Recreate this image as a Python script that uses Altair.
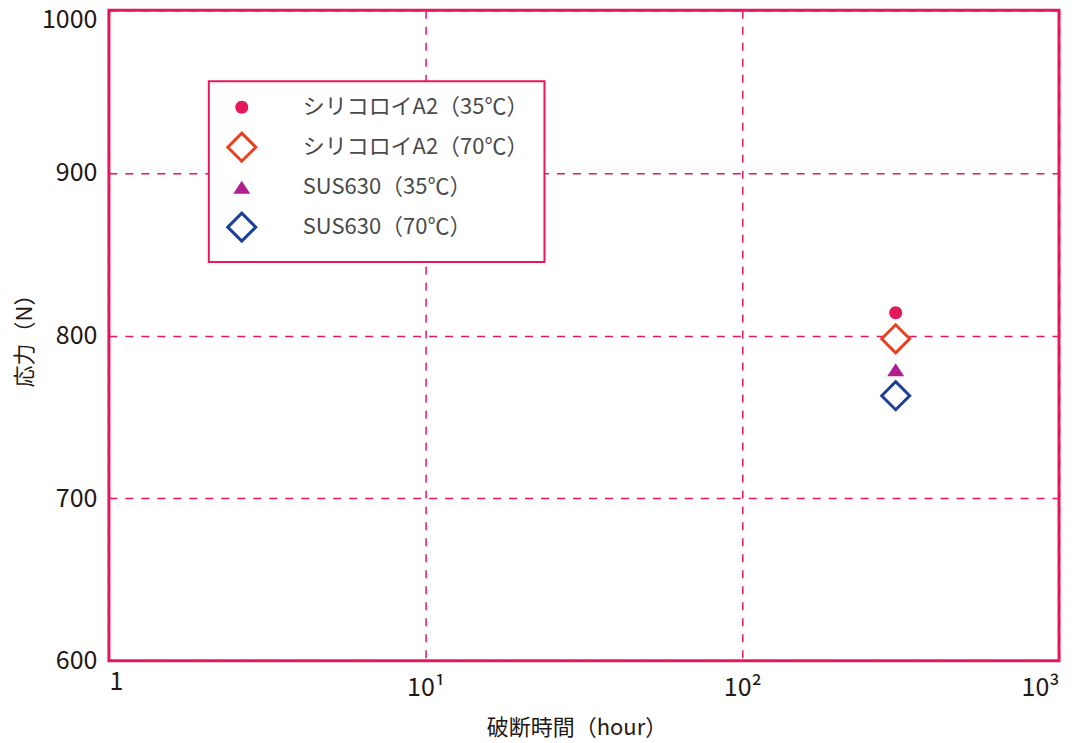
import altair as alt
import pandas as pd

# ---- data ----
series = ["シリコロイA2（35℃）", "シリコロイA2（70℃）", "SUS630（35℃）", "SUS630（70℃）"]
hours = [305, 305, 305, 305]
stress = [814, 798, 779, 763]

x_ticks = [1, 10, 100, 1000]
x_tick_labels = ["1", "10¹", "10²", "10³"]
y_ticks = [600, 700, 800, 900, 1000]

fill_colors = ["#E5185D", "#FFFFFF", "#B0218D", "#FFFFFF"]
stroke_colors = ["transparent", "#E8411D", "transparent", "#1E3F98"]
shapes = [
    "M1.3,0A1.3,1.3,0,1,1,-1.3,0A1.3,1.3,0,1,1,1.3,0Z",
    "M-2.8,0L0,-2.8L2.8,0L0,2.8Z",
    "M0,-1.3L1.7,1.3L-1.7,1.3Z",
    "M-2.8,0L0,-2.8L2.8,0L0,2.8Z",
]

df = pd.DataFrame({"series": series, "hours": hours, "stress": stress})

FONT = "Noto Sans CJK JP"
FRAME = "#E5185D"
TEXT = "#231815"

label_expr = " : ".join(
    f"datum.value == {v} ? '{l}'" for v, l in zip(x_ticks[:-1], x_tick_labels[:-1])
) + f" : '{x_tick_labels[-1]}'"

chart = (
    alt.Chart(df)
    .mark_point(filled=True, opacity=1, size=100, strokeWidth=3)
    .encode(
        x=alt.X(
            "hours:Q",
            scale=alt.Scale(type="log", domain=[1, 1000], nice=False),
            axis=alt.Axis(
                title="破断時間（hour）",
                values=x_ticks,
                labelExpr=label_expr,
                labelPadding={"condition": {"test": "datum.value <= 1", "value": 9}, "value": 15},
                titleX=468,
                titleY=67,
                titleBaseline="middle",
            ),
        ),
        y=alt.Y(
            "stress:Q",
            scale=alt.Scale(domain=[600, 1000], nice=False, zero=False),
            axis=alt.Axis(
                title="応力（N）",
                values=y_ticks,
                format="d",
                labelPadding=12,
                labelOffset={"condition": {"test": "datum.value >= 1000", "value": 9}, "value": 0},
                titleX=-84,
                titleY=325,
                titleBaseline="middle",
            ),
        ),
        shape=alt.Shape("series:N", scale=alt.Scale(domain=series, range=shapes),
                        sort=series, legend=alt.Legend(title=None)),
        fill=alt.Fill("series:N", scale=alt.Scale(domain=series, range=fill_colors),
                      sort=series, legend=alt.Legend(title=None)),
        stroke=alt.Stroke("series:N", scale=alt.Scale(domain=series, range=stroke_colors),
                          sort=series, legend=alt.Legend(title=None)),
    )
    .properties(
        width=951,
        height=651,
        autosize=alt.AutoSizeParams(type="none"),
        padding={"left": 101, "top": 2, "right": 8, "bottom": 84},
    )
    .configure_view(stroke=FRAME, strokeWidth=3, fill="white")
    .configure_axis(
        domain=False,
        ticks=False,
        grid=True,
        gridColor=FRAME,
        gridDash=[8, 8],
        gridWidth=1.5,
        labelFont=FONT,
        labelFontSize=25,
        labelColor=TEXT,
        titleFont=FONT,
        titleFontSize=22,
        titleFontWeight="normal",
        titleColor=TEXT,
    )
    .configure_legend(
        orient="none",
        legendX=100,
        legendY=71,
        strokeColor=FRAME,
        strokeWidth=2,
        fillColor="white",
        padding=15,
        symbolSize=100,
        symbolStrokeWidth=3,
        symbolOffset=7,
        labelOffset=50,
        rowPadding=7,
        labelFont=FONT,
        labelFontSize=22,
        labelColor="#4A4A4A",
        labelLimit=400,
    )
)

chart.save("out.html", embed_options={"renderer": "svg", "actions": False})
